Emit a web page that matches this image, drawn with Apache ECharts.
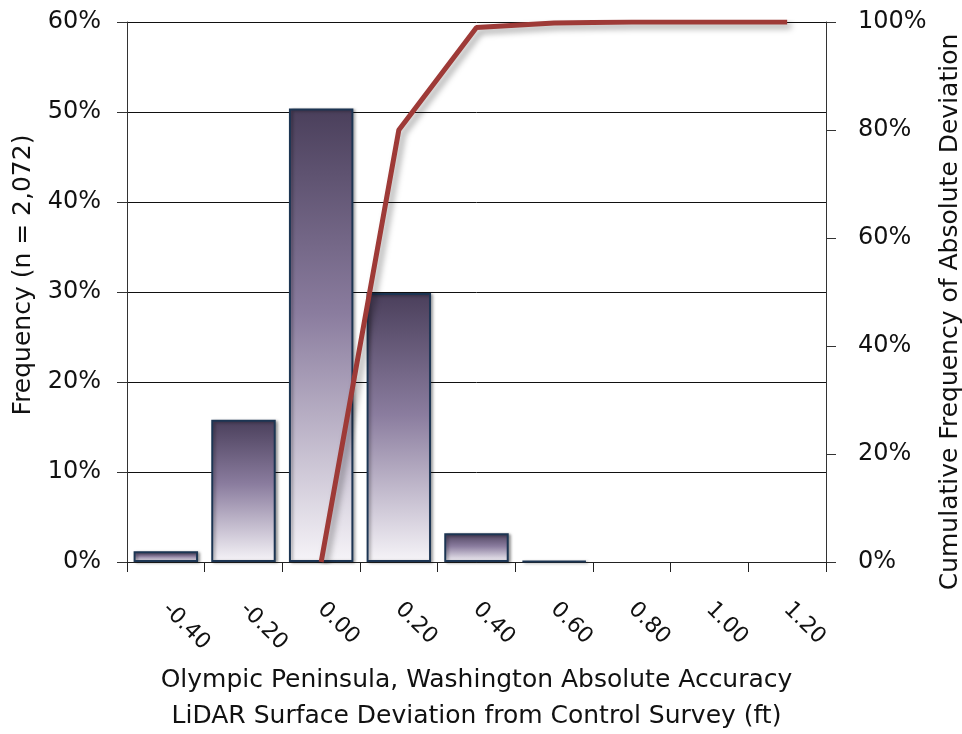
<!DOCTYPE html>
<html>
<head>
<meta charset="utf-8">
<script src="https://cdn.jsdelivr.net/npm/echarts@6/dist/echarts.min.js"></script>
<style>
  html, body { margin: 0; padding: 0; background: #fff; }
  #chart { width: 962px; height: 734px; }
</style>
</head>
<body>
<div id="chart"></div>
<script>
// bins of deviation (ft)
const categories = ['-0.40', '-0.20', '0.00', '0.20', '0.40', '0.60', '0.80', '1.00', '1.20'];
// frequency per bin (%)
const frequency = [1.2, 15.8, 50.4, 29.9, 3.2, 0.1, 0, 0, 0];
// cumulative frequency of absolute deviation (%)
const cumulative = [null, null, 0, 80, 99, 99.8, 100, 100, 100];

const fontFamily = '"DejaVu Sans", sans-serif';

let chart = echarts.init(document.getElementById('chart'));

let option = {
  animation: false,
  grid: { left: 127, right: 136, top: 22, bottom: 172, outerBoundsMode: 'none', containLabel: false },
  // axis titles placed by hand (they are not centred on the axes)
  graphic: [
    {
      type: 'text',
      x: 23, y: 275,
      rotation: Math.PI / 2,
      style: {
        text: 'Frequency (n = 2,072)',
        fontFamily: fontFamily, fontSize: 25, fill: '#111',
        align: 'center', verticalAlign: 'middle'
      }
    },
    {
      type: 'text',
      x: 950, y: 312,
      rotation: Math.PI / 2,
      style: {
        text: 'Cumulative Frequency of Absolute Deviation',
        fontFamily: fontFamily, fontSize: 25, fill: '#111',
        align: 'center', verticalAlign: 'middle'
      }
    }
  ],
  xAxis: {
    type: 'category',
    data: categories,
    name: 'Olympic Peninsula, Washington Absolute Accuracy\nLiDAR Surface Deviation from Control Survey (ft)',
    nameLocation: 'middle',
    nameGap: 100,
    nameTextStyle: { fontFamily: fontFamily, fontSize: 25, color: '#111', lineHeight: 36 },
    axisLine: { lineStyle: { color: '#222', width: 1 } },
    axisTick: { show: true, length: 10, lineStyle: { color: '#222' } },
    axisLabel: {
      rotate: -45,
      margin: 44,
      fontFamily: fontFamily,
      fontSize: 22,
      color: '#111'
    }
  },
  yAxis: [
    {
      type: 'value',
      min: 0,
      max: 60,
      interval: 10,
      axisLine: { show: true, lineStyle: { color: '#333' } },
      axisTick: { show: true, length: 10, lineStyle: { color: '#333' } },
      axisLabel: { formatter: '{value}%', margin: 26, fontFamily: fontFamily, fontSize: 24, color: '#111' },
      splitLine: { show: true, lineStyle: { color: '#111', width: 1 } }
    },
    {
      type: 'value',
      min: 0,
      max: 100,
      interval: 20,
      position: 'right',
      axisLine: { show: true, lineStyle: { color: '#333' } },
      axisTick: { show: true, length: 10, lineStyle: { color: '#333' } },
      axisLabel: { formatter: '{value}%', margin: 32, fontFamily: fontFamily, fontSize: 24, color: '#111' },
      splitLine: { show: false }
    }
  ],
  series: [
    {
      name: 'Frequency',
      type: 'bar',
      yAxisIndex: 0,
      barCategoryGap: '17%',
      data: frequency.map(v => (v === 0 ? '-' : v)),
      itemStyle: {
        color: new echarts.graphic.LinearGradient(0, 0, 0, 1, [
          { offset: 0, color: '#4a3f5b' },
          { offset: 0.45, color: '#8a7c9e' },
          { offset: 1, color: '#f6f4f8' }
        ]),
        borderColor: '#1c3553',
        borderWidth: 2,
        shadowColor: 'rgba(0,0,0,0.35)',
        shadowBlur: 3,
        shadowOffsetX: 2,
        shadowOffsetY: 1
      }
    },
    {
      name: 'Cumulative',
      type: 'line',
      yAxisIndex: 1,
      data: cumulative,
      symbol: 'none',
      connectNulls: false,
      lineStyle: {
        color: '#9e3a37',
        width: 5,
        shadowColor: 'rgba(0,0,0,0.35)',
        shadowBlur: 6,
        shadowOffsetX: 4,
        shadowOffsetY: 4
      },
      z: 5
    }
  ]
};

chart.setOption(option);
</script>
</body>
</html>
